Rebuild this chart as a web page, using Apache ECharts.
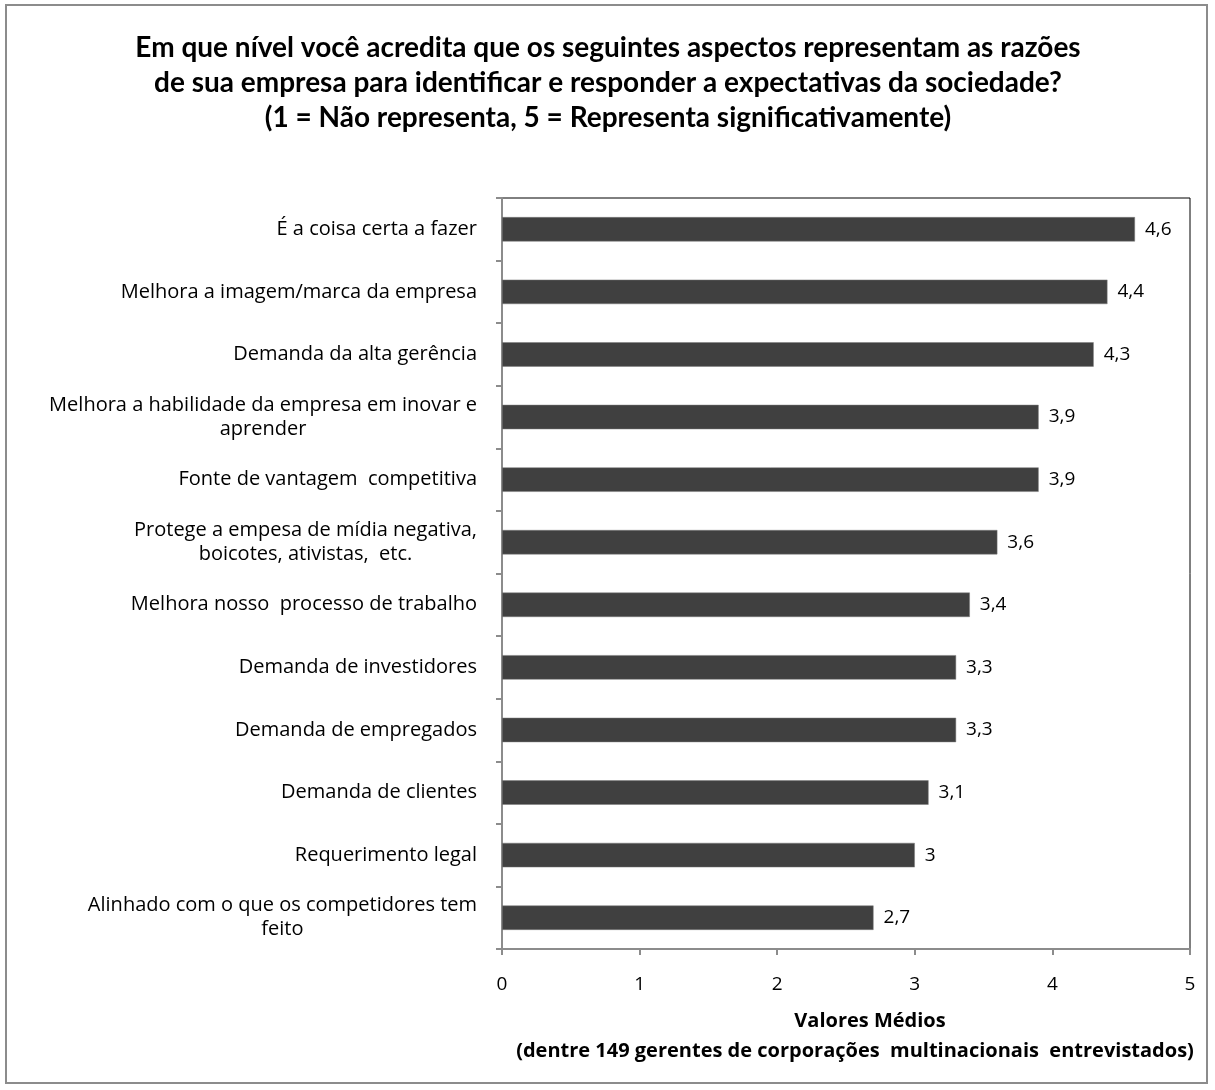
<!DOCTYPE html>
<html>
<head>
<meta charset="utf-8">
<script src="https://cdn.jsdelivr.net/npm/echarts@6/dist/echarts.min.js"></script>
<style>
  html, body { margin: 0; padding: 0; background: #fff; }
  #main { width: 1215px; height: 1090px; }
</style>
</head>
<body>
<div id="main"></div>
<script>
// categories from top to bottom
var categories = [
  'É a coisa certa a fazer',
  'Melhora a imagem/marca da empresa',
  'Demanda da alta gerência',
  'Melhora a habilidade da empresa em inovar e\naprender',
  'Fonte de vantagem  competitiva',
  'Protege a empesa de mídia negativa,\nboicotes, ativistas,  etc.',
  'Melhora nosso  processo de trabalho',
  'Demanda de investidores',
  'Demanda de empregados',
  'Demanda de clientes',
  'Requerimento legal',
  'Alinhado com o que os competidores tem\nfeito'
];
var values = [4.6, 4.4, 4.3, 3.9, 3.9, 3.6, 3.4, 3.3, 3.3, 3.1, 3, 2.7];
var titleLines = [
  'Em que nível você acredita que os seguintes aspectos representam as razões',
  'de sua empresa para identificar e responder a expectativas da sociedade?',
  '(1 = Não representa, 5 = Representa significativamente)'
];
var axisTitle = 'Valores Médios';
var axisSubtitle = '(dentre 149 gerentes de corporações  multinacionais  entrevistados)';

var font = '"Open Sans", Lato, sans-serif';
var titleFont = 'Lato, "Open Sans", sans-serif';
var chart = echarts.init(document.getElementById('main'));

var option = {
  backgroundColor: '#ffffff',
  animation: false,
  textStyle: { fontFamily: font },
  grid: {
    left: 502,
    right: 25,
    top: 198,
    bottom: 141,
    show: true,
    borderColor: '#000',
    borderWidth: 1
  },
  xAxis: {
    type: 'value',
    min: 0,
    max: 5,
    interval: 1,
    splitLine: { show: false },
    axisLine: { show: true, lineStyle: { color: '#8c8c8c', width: 2 } },
    axisTick: { show: true, length: 6, lineStyle: { color: '#8c8c8c', width: 2 } },
    axisLabel: { color: '#000', fontSize: 19, margin: 26, fontFamily: font }
  },
  yAxis: {
    type: 'category',
    inverse: true,
    data: categories,
    axisLine: { show: true, lineStyle: { color: '#8c8c8c', width: 2 } },
    axisTick: { show: true, length: 6, lineStyle: { color: '#8c8c8c', width: 2 } },
    axisLabel: {
      margin: 25,
      lineHeight: 24,
      formatter: function (v) {
        var lines = v.split('\n');
        if (lines.length === 1) return '{r|' + v + '}';
        return lines.map(function (l) { return '{c|' + l + '}'; }).join('\n');
      },
      rich: {
        r: { color: '#000', fontSize: 20, fontFamily: font, lineHeight: 24 },
        c: { color: '#000', fontSize: 20, fontFamily: font, lineHeight: 24, align: 'center' }
      }
    }
  },
  series: [{
    type: 'bar',
    data: values,
    barWidth: '39%',
    itemStyle: { color: '#404040', borderColor: '#7a7a7a', borderWidth: 0.5 },
    label: {
      show: true,
      position: 'right',
      distance: 10,
      color: '#000',
      fontSize: 19,
      fontFamily: font,
      formatter: function (p) { return String(p.value).replace('.', ','); }
    }
  }],
  graphic: [
    {
      type: 'rect',
      shape: { x: 6, y: 5, width: 1201, height: 1078 },
      style: { fill: 'none', stroke: '#8c8c8c', lineWidth: 2 },
      silent: true
    },
    {
      type: 'text',
      x: 608,
      y: 30,
      style: {
        text: titleLines.join('\n'),
        font: 'bold 28px ' + titleFont,
        lineHeight: 35,
        fill: '#000',
        align: 'center',
        verticalAlign: 'top'
      }
    },
    {
      type: 'text',
      x: 870,
      y: 1021,
      style: {
        text: axisTitle,
        font: 'bold 20px ' + font,
        fill: '#000',
        align: 'center',
        verticalAlign: 'middle'
      }
    },
    {
      type: 'text',
      x: 855,
      y: 1051,
      style: {
        text: axisSubtitle,
        font: 'bold 20px ' + font,
        fill: '#000',
        align: 'center',
        verticalAlign: 'middle'
      }
    }
  ]
};

chart.setOption(option);
</script>
</body>
</html>
